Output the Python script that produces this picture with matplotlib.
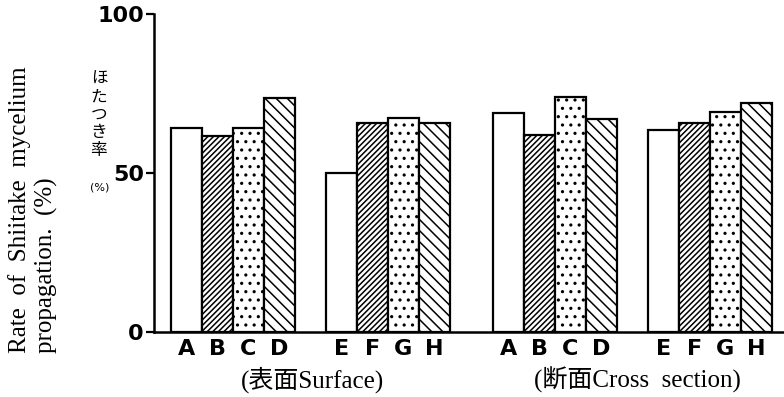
import matplotlib.pyplot as plt
import numpy as np

# data
letters = [["A", "B", "C", "D"], ["E", "F", "G", "H"], ["A", "B", "C", "D"], ["E", "F", "G", "H"]]
surface_abcd = [64.0, 61.6, 64.0, 73.5]
surface_efgh = [49.9, 65.8, 67.4, 65.7]
cross_abcd = [68.8, 62.0, 74.0, 67.0]
cross_efgh = [63.5, 65.6, 69.3, 72.1]
groups = [surface_abcd, surface_efgh, cross_abcd, cross_efgh]
yticks = [0, 50, 100]

hatches = ["", "//////", "..", "\\\\\\"]
group_start = [17, 172, 339, 494]   # left edge of each group (pixel-like units)
w = 31

plt.rcParams['hatch.linewidth'] = 1.1
fig = plt.figure(figsize=(7.84, 3.97), dpi=100)
ax = fig.add_axes([0.196, 0.164, 0.804, 0.801])

xt = []
xl = []
for g, vals in enumerate(groups):
    x = group_start[g] + w / 2 + np.arange(4) * w
    for i in range(4):
        ax.bar(x[i], vals[i], width=w, facecolor="white", edgecolor="black",
               linewidth=1.6, hatch=hatches[i])
    xt += list(x)
    xl += letters[g]

ax.set_xlim(0, 630)
ax.set_ylim(0, 100)
ax.set_yticks(yticks)
ax.set_yticklabels([str(t) for t in yticks], fontsize=16, fontweight="bold",
                   family="DejaVu Sans")
ax.set_xticks(xt)
ax.set_xticklabels(xl, fontsize=16, fontweight="bold", family="DejaVu Sans")
ax.tick_params(axis="x", length=0, pad=5)
ax.tick_params(axis="y", length=6, width=1.6, pad=1)
for s in ["top", "right"]:
    ax.spines[s].set_visible(False)
for s in ["left", "bottom"]:
    ax.spines[s].set_linewidth(1.8)

serif = ["Liberation Serif", "Noto Sans CJK JP"]
fig.text(313 / 784, 1 - 380 / 397, "(表面Surface)", ha="center", va="center",
         fontsize=18, family=serif)
fig.text(637 / 784, 1 - 380 / 397, "(断面Cross  section)", ha="center", va="center",
         fontsize=18, family=serif)

fig.text(20 / 784, 1 - 353 / 397, "Rate  of  Shiitake  mycelium", rotation=90,
         ha="center", va="bottom", fontsize=18, family="Liberation Serif")
fig.text(46 / 784, 1 - 353 / 397, "propagation.  (%)", rotation=90,
         ha="center", va="bottom", fontsize=18, family="Liberation Serif")

fig.text(99 / 784, 1 - 115 / 397, "ほ\nた\nつ\nき\n率", ha="center", va="center",
         fontsize=12, family="Noto Sans CJK JP", linespacing=1.05)
fig.text(100 / 784, 1 - 188 / 397, "(%)", ha="center", va="center",
         fontsize=8, family="DejaVu Sans")

fig.savefig("out.png", dpi=100)
